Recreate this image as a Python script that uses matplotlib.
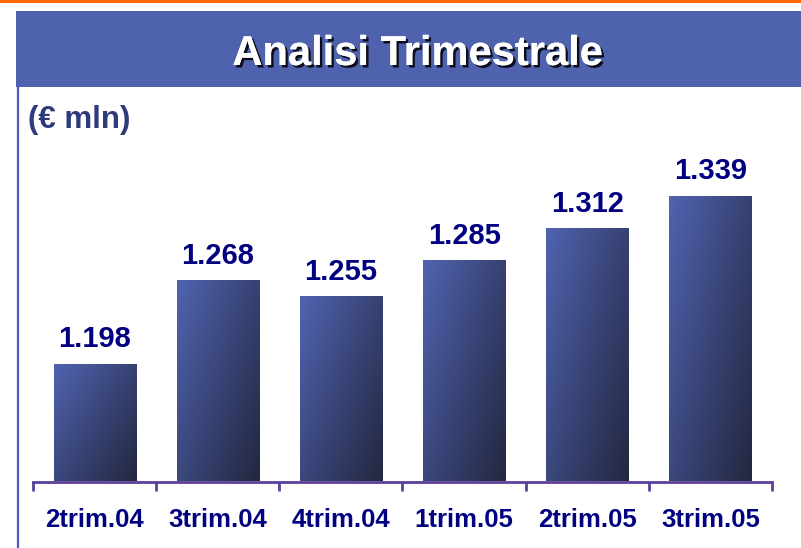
import numpy as np
import matplotlib
matplotlib.use("Agg")
import matplotlib.pyplot as plt
from matplotlib.patches import Rectangle
from matplotlib.lines import Line2D
import matplotlib.patheffects as pe
from matplotlib.colors import to_rgb

categories = ["2trim.04", "3trim.04", "4trim.04", "1trim.05", "2trim.05", "3trim.05"]
values = [1.198, 1.268, 1.255, 1.285, 1.312, 1.339]
value_labels = ["1.198", "1.268", "1.255", "1.285", "1.312", "1.339"]
title = "Analisi Trimestrale"
unit_label = "(€ mln)"

W, H = 801, 548
fig = plt.figure(figsize=(W / 100, H / 100), dpi=100)
fig.patch.set_facecolor("white")

FONT = ["Liberation Sans", "Arial", "DejaVu Sans"]

def fx(px):
    return px / W

def fy(py):
    return 1 - py / H

# orange top line
fig.patches.append(Rectangle((0, fy(3)), 1, 3 / H, transform=fig.transFigure,
                             facecolor="#FF6600", edgecolor="none", zorder=0))
# title band
fig.patches.append(Rectangle((fx(16), fy(87)), 1 - fx(16), 76 / H, transform=fig.transFigure,
                             facecolor="#4F62AE", edgecolor="none", zorder=0))
# left vertical line
fig.lines.append(Line2D([fx(18), fx(18)], [fy(87), 0], transform=fig.transFigure,
                        color="#5555C0", linewidth=1.6))

fig.text(fx(418), fy(65), title, ha="center", va="baseline", color="white",
         fontsize=30, fontweight="bold", family=FONT,
         path_effects=[pe.withSimplePatchShadow(offset=(1.8, -1.8), shadow_rgbFace="black", alpha=0.85),
                       pe.Normal()])

fig.text(fx(28), fy(128), unit_label, ha="left", va="baseline", color="#2E3B7A",
         fontsize=22.5, fontweight="bold", family=FONT)

# axes
base = 1.1
px_per_unit = 1191.0
ax_bottom_px = 481.5
ax_top_px = 100
ytop = base + (ax_bottom_px - ax_top_px) / px_per_unit
ax = fig.add_axes([fx(33), fy(ax_bottom_px), fx(772) - fx(33), (ax_bottom_px - ax_top_px) / H])
ax.set_facecolor("none")

x = np.arange(len(categories))
bw = 0.667
c0 = np.array(to_rgb("#5063B0"))
c1 = np.array(to_rgb("#23273F"))
nu, nv = 60, 120
u = np.linspace(0, 1, nu)[None, :]
v = np.linspace(0, 1, nv)[:, None]
t = (u * 0.55 + v * 0.45)
t = np.clip(t, 0, 1)
img = c0[None, None, :] * (1 - t[..., None]) + c1[None, None, :] * t[..., None]

bars = ax.bar(x, np.array(values) - base, bottom=base, width=bw, color="none", edgecolor="none")
for b in bars:
    x0 = b.get_x()
    x1 = x0 + b.get_width()
    y0 = base
    y1 = base + b.get_height()
    ax.imshow(img, extent=(x0, x1, y0, y1), aspect="auto", origin="upper",
              interpolation="bilinear", zorder=2)

for xi, val, lab in zip(x, values, value_labels):
    ax.annotate(lab, xy=(xi, val), xytext=(0, 12.5), textcoords="offset points",
                ha="center", va="baseline", color="#000080", fontsize=21,
                fontweight="bold", family=FONT)
    ax.annotate(categories[xi], xy=(xi, 0), xycoords=("data", "axes fraction"),
                xytext=(0, -33), textcoords="offset points", ha="center", va="baseline",
                color="#000080", fontsize=18.5, fontweight="bold", family=FONT,
                annotation_clip=False)

ax.set_xlim(-0.5, len(categories) - 0.5)
ax.set_ylim(base, ytop)
for s in ["top", "right", "left"]:
    ax.spines[s].set_visible(False)
ax.spines["bottom"].set_color("#5B3F98")
ax.spines["bottom"].set_linewidth(2)
ax.set_xticks(np.arange(-0.5, len(categories), 1.0))
ax.set_xticklabels([])
ax.tick_params(axis="x", direction="out", length=6.5, width=2, color="#5B3F98")
ax.set_yticks([])

fig.savefig("out.png", dpi=100)
